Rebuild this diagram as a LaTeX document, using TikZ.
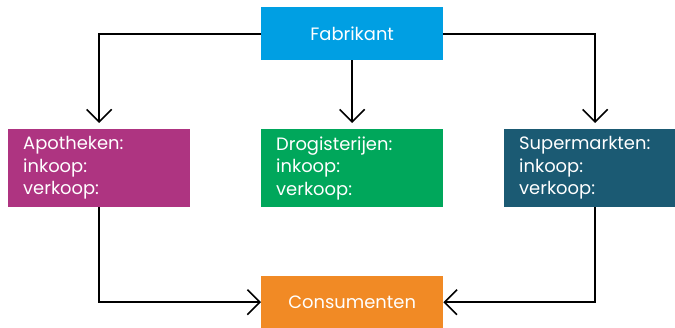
\documentclass[tikz,border=0pt]{standalone}
\usepackage{fontspec}
\setmainfont{Poppins}
\usetikzlibrary{arrows.meta}
\definecolor{cFab}{HTML}{009FE3}
\definecolor{cApo}{HTML}{AE3481}
\definecolor{cDro}{HTML}{00A75B}
\definecolor{cSup}{HTML}{1B5A73}
\definecolor{cCon}{HTML}{F18A25}
\tikzset{
  box/.style={rectangle, draw=none, text=white, minimum width=182pt, inner sep=0pt,
    font=\fontsize{17.9}{22.5}\selectfont},
  listbox/.style={box, minimum height=78pt, text width=152pt, align=left, inner xsep=15pt},
  titlebox/.style={box, minimum height=53pt, align=center},
  conn/.style={line width=1.8pt, -{Straight Barb[length=12.5pt,width=25pt,line width=1.6pt]}}
}
\begin{document}
\begin{tikzpicture}[x=1pt,y=1pt]
\useasboundingbox (0,0) rectangle (675,-328);
\node[titlebox, fill=cFab, anchor=north west] (fab) at (261,-7) {Fabrikant};
\node[listbox, fill=cApo, anchor=north west] (apo) at (8,-129) {Apotheken:\\inkoop:\\verkoop:};
\node[listbox, fill=cDro, anchor=north west] (dro) at (261,-129) {Drogisterijen:\\inkoop:\\verkoop:};
\node[listbox, fill=cSup, anchor=north west] (sup) at (504,-129) {Supermarkten:\\inkoop:\\verkoop:};
\node[titlebox, minimum height=52pt, fill=cCon, anchor=north west] (con) at (261,-276) {Consumenten};
\draw[conn, shorten >=6pt] (fab.west) -| (apo.north);
\draw[conn, shorten >=6pt] (fab.south) -- (dro.north);
\draw[conn, shorten >=6pt] (fab.east) -| (sup.north);
\draw[conn] (apo.south) |- (con.west);
\draw[conn] (sup.south) |- (con.east);
\end{tikzpicture}
\end{document}
